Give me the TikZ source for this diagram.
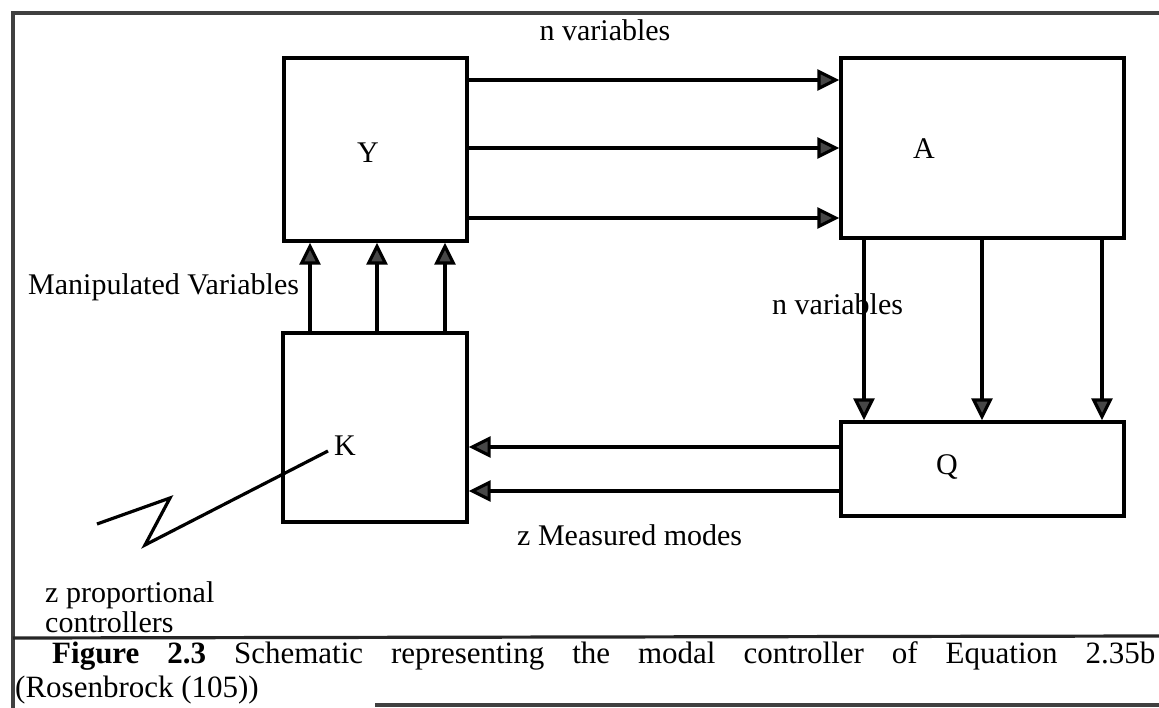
\documentclass[tikz,border=0pt]{standalone}
\usepackage{fontspec}
\setmainfont{Liberation Serif}
\usetikzlibrary{arrows.meta,calc}
\begin{document}
\begin{tikzpicture}[x=1pt,y=-1pt,
  box/.style={draw=black,line width=3.4pt,inner sep=0pt,fill=none},
  lbl/.style={inner sep=0pt,font=\fontsize{30}{34}\selectfont},
  conn/.style={line width=3.2pt,draw=black,-{Triangle[length=22pt,width=21pt,fill=black!72]}},
  frame/.style={line width=4.5pt,draw=black!75}]
\useasboundingbox (0,0) rectangle (1159,708);
% frame
\coordinate (f1) at (13,708);
\coordinate (f2) at (13,13);
\coordinate (f3) at (1159,13);
\coordinate (s1) at (13,638);
\coordinate (s2) at (1159,636);
\coordinate (b1) at (375,705);
\coordinate (b2) at (1159,705);
\draw[frame] (f1) -- (f2) -- (f3);
\draw[frame,line width=3.2pt,draw=black!85] (s1) -- (s2);
\draw[frame,line width=3.5pt] (b1) -- (b2);
% boxes
\node[box,minimum width=183pt,minimum height=183pt] (Y) at (375.5,149.5) {};
\node[box,minimum width=283pt,minimum height=180pt] (A) at (982.5,148) {};
\node[box,minimum width=184pt,minimum height=189pt] (K) at (375,427.5) {};
\node[box,minimum width=283pt,minimum height=94pt] (Q) at (982.5,469) {};
% box labels
\node[lbl] (Ylab) at (368,153) {Y};
\node[lbl] (Alab) at (924,149) {A};
\node[lbl] (Klab) at (345,446) {K};
\node[lbl] (Qlab) at (947,467) {Q};
% level coordinates
\coordinate (h1) at (0,80);
\coordinate (h2) at (0,148);
\coordinate (h3) at (0,218);
\coordinate (v1) at (864,0);
\coordinate (v2) at (982,0);
\coordinate (v3) at (1102,0);
\coordinate (u1) at (310,0);
\coordinate (u2) at (377,0);
\coordinate (u3) at (445,0);
\coordinate (g1) at (0,447);
\coordinate (g2) at (0,491);
% Y -> A
\draw[conn] (Y.east |- h1) -- (A.west |- h1);
\draw[conn] (Y.east |- h2) -- (A.west |- h2);
\draw[conn] (Y.east |- h3) -- (A.west |- h3);
% A -> Q
\draw[conn] (A.south -| v1) -- (Q.north -| v1);
\draw[conn] (A.south -| v2) -- (Q.north -| v2);
\draw[conn] (A.south -| v3) -- (Q.north -| v3);
% K -> Y
\draw[conn] (K.north -| u1) -- (Y.south -| u1);
\draw[conn] (K.north -| u2) -- (Y.south -| u2);
\draw[conn] (K.north -| u3) -- (Y.south -| u3);
% Q -> K
\draw[conn] (Q.west |- g1) -- (K.east |- g1);
\draw[conn] (Q.west |- g2) -- (K.east |- g2);
% zigzag
\coordinate (z1) at (97,524);
\coordinate (z2) at (170,498);
\coordinate (z3) at (145,545);
\coordinate (z4) at (328,451);
\draw[line width=3.2pt,line join=miter] (z1) -- (z2) -- (z3) -- (z4);
% labels
\node[lbl,anchor=base] (ntop) at (605,41) {n variables};
\node[lbl,anchor=base west] (nmid) at (772,315) {n variables};
\node[lbl,anchor=base west] (manip) at (28,295) {Manipulated Variables};
\node[lbl,anchor=base west] (meas) at (517,545) {z Measured modes};
\node[lbl,anchor=base west] (zprop) at (45,602) {z proportional};
\node[lbl,anchor=base west] (zctrl) at (45,632) {controllers};
% caption
\node[inner sep=0pt,anchor=north west,text width=1140pt,align=justify,
  font=\fontsize{31}{34}\selectfont] (cap) at (15,641)
  {\hspace*{37pt}\textbf{Figure 2.3} Schematic representing the modal controller of Equation 2.35b\linebreak (Rosenbrock (105))};
\end{tikzpicture}
\end{document}
